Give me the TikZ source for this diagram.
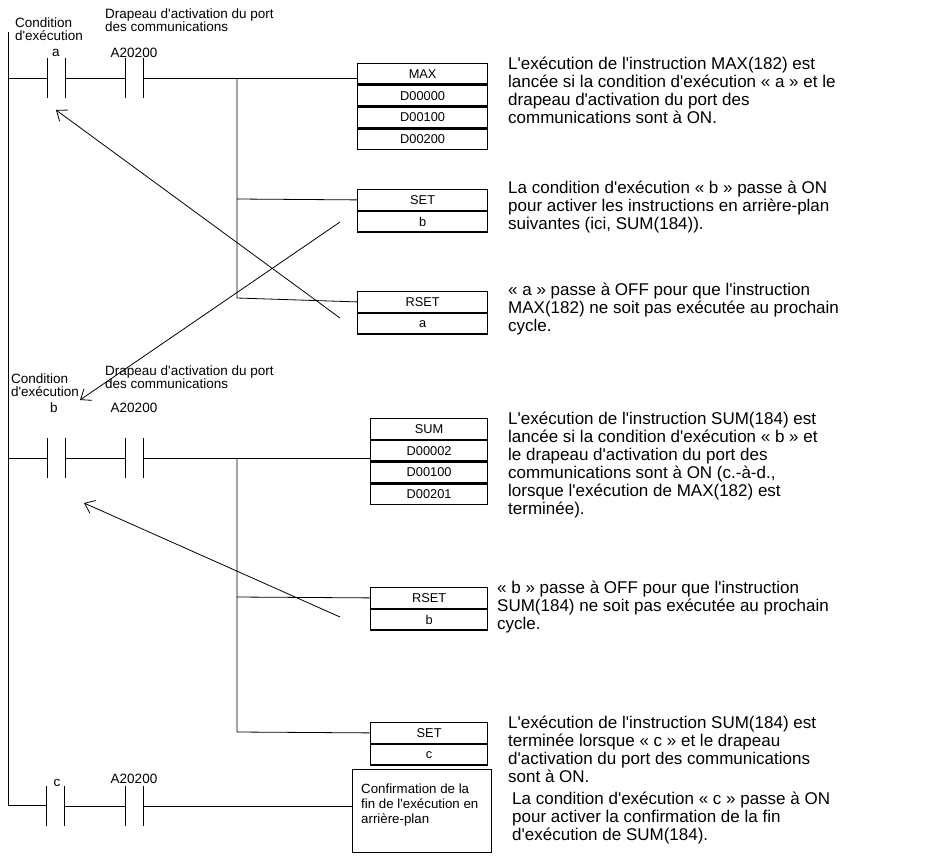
\documentclass[tikz,border=0pt]{standalone}
\usepackage{fontspec}
\setmainfont{Liberation Sans}[Ligatures=TeXOff]
\usetikzlibrary{positioning,arrows.meta}
\begin{document}
\begin{tikzpicture}[x=1pt,y=-1pt]
        %styles
        \tikzset{wire/.style={line width=0.8pt},
                 cell/.style={draw,line width=1.3pt,minimum width=130pt,minimum height=20.5pt,inner sep=0pt,font=\fontsize{12.8}{13}\selectfont},
                 small/.style={font=\fontsize{13.5}{13.5}\selectfont,align=left,inner sep=0pt},
                 note/.style={font=\fontsize{17}{18}\selectfont,align=left,anchor=north west,inner sep=0pt},
                 pointer/.style={wire,-{Straight Barb[length=9pt,width=14pt]}}}
        \newcommand{\contact}[2]{\draw[wire] (#1-8,#2-20) -- (#1-8,#2+20) (#1+10,#2-20) -- (#1+10,#2+20);}
        \useasboundingbox (0,0) rectangle (940,859);

        %rail
        \draw[wire] (8,32) -- (8,805) -- (47,805);

        %rung 1
        \node[small] at (49,29) {Condition\\d'exécution};
        \node[small,anchor=west] at (105,20) {Drapeau d'activation du port\\des communications};
        \node[small] at (56,53) {a};
        \node[small] at (134,53) {A20200};
        \contact{55}{78}\contact{133}{78}
        \draw[wire] (8,78) -- (47,78) (65,78) -- (125,78) (143,78) -- (357,78);
        \node[cell,anchor=north west] (max) at (357,63) {MAX};
        \node[cell,below=0pt of max] (m1) {D00000};
        \node[cell,below=0pt of m1] (m2) {D00100};
        \node[cell,below=0pt of m2] (m3) {D00200};
        \node[cell,anchor=north west] (set1) at (357,189) {SET};
        \node[cell,below=0pt of set1] (setb) {b};
        \node[cell,anchor=north west] (rset1) at (357,291) {RSET};
        \node[cell,below=0pt of rset1] (rseta) {a};
        \draw[wire] (237,78) -- (237,298) -- (rset1.west) (237,199) -- (set1.west);
        \coordinate (ta) at (56,110);
        \coordinate (tb) at (80,400);
        \draw[pointer] (340,318) -- (ta);
        \draw[pointer] (340,222) -- (tb);

        \node[note] at (508,57) {L'exécution de l'instruction MAX(182) est\\lancée si la condition d'exécution « a » et le\\drapeau d'activation du port des\\communications sont à ON.};
        \node[note] at (508,181) {La condition d'exécution « b » passe à ON\\pour activer les instructions en arrière-plan\\suivantes (ici, SUM(184)).};
        \node[note] at (508,283) {« a » passe à OFF pour que l'instruction\\MAX(182) ne soit pas exécutée au prochain\\cycle.};

        %rung 2
        \node[small] at (45,385) {Condition\\d'exécution};
        \node[small,anchor=west] at (105,377) {Drapeau d'activation du port\\des communications};
        \node[small] at (54,408) {b};
        \node[small] at (134,408) {A20200};
        \contact{55}{458}\contact{133}{458}
        \draw[wire] (8,458) -- (47,458) (65,458) -- (125,458) (143,458) -- (370,458);
        \node[cell,minimum width=117pt,anchor=north west] (sum) at (370,418) {SUM};
        \node[cell,minimum width=117pt,below=0pt of sum] (s1) {D00002};
        \node[cell,minimum width=117pt,below=0pt of s1] (s2) {D00100};
        \node[cell,minimum width=117pt,below=0pt of s2] (s3) {D00201};
        \node[cell,minimum width=117pt,anchor=north west] (rset2) at (370,587) {RSET};
        \node[cell,minimum width=117pt,below=0pt of rset2] (rsetb) {b};
        \node[cell,minimum width=117pt,anchor=north west] (set2) at (370,722) {SET};
        \node[cell,minimum width=117pt,below=0pt of set2] (setc) {c};
        \draw[wire] (237,458) -- (237,732) -- (set2.west) (237,597) -- (rset2.west);
        \coordinate (tc) at (84,503);
        \draw[pointer] (340,617) -- (tc);

        \node[note] at (508,412) {L'exécution de l'instruction SUM(184) est\\lancée si la condition d'exécution « b » et\\le drapeau d'activation du port des\\communications sont à ON (c.-à-d.,\\lorsque l'exécution de MAX(182) est\\terminée).};
        \node[note] at (497,581) {« b » passe à OFF pour que l'instruction\\SUM(184) ne soit pas exécutée au prochain\\cycle.};
        \node[note] at (508,716) {L'exécution de l'instruction SUM(184) est\\terminée lorsque « c » et le drapeau\\d'activation du port des communications\\sont à ON.};

        %rung 3
        \node[small] at (57,783) {c};
        \node[small] at (134,779) {A20200};
        \contact{54}{806}\contact{133}{806}
        \draw[wire] (65,806) -- (125,806) (143,806) -- (352,806);
        \node[draw,line width=1.3pt,minimum width=139pt,minimum height=83pt,anchor=north west,inner sep=0pt] (conf) at (352,769) {};
        \node[font=\fontsize{13.3}{15}\selectfont,align=left,anchor=north west,inner sep=0pt] at (361,784) {Confirmation de la\\fin de l'exécution en\\arrière-plan};
        \node[note] at (512,792) {La condition d'exécution « c » passe à ON\\pour activer la confirmation de la fin\\d'exécution de SUM(184).};
\end{tikzpicture}
\end{document}
